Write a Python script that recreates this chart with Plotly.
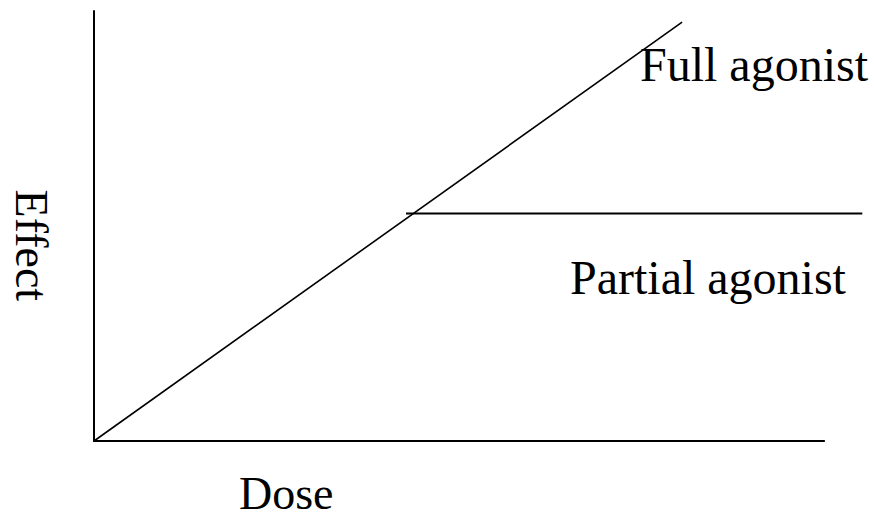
import plotly.graph_objects as go

# schematic dose-effect lines (arbitrary units)
axis_dose = [0, 0, 9.37]
axis_effect = [9.77, 0, 0]

full_dose = [0, 7.54]
full_effect = [0, 9.50]

partial_dose = [4.0, 9.85]
partial_effect = [5.16, 5.16]

fig = go.Figure()

fig.add_trace(go.Scatter(x=axis_dose, y=axis_effect, mode='lines',
                         line=dict(color='black', width=2), hoverinfo='skip'))
fig.add_trace(go.Scatter(x=full_dose, y=full_effect, mode='lines',
                         line=dict(color='black', width=1.6), name="Full agonist"))
fig.add_trace(go.Scatter(x=partial_dose, y=partial_effect, mode='lines',
                         line=dict(color='black', width=2), name="Partial agonist"))

label_font = dict(family="Liberation Serif, Times New Roman, serif", size=48, color="black")
axis_font = dict(family="Liberation Serif, Times New Roman, serif", size=46, color="black")

fig.add_annotation(x=6.98, y=8.54, text="Full agonist", showarrow=False,
                   xanchor='left', yanchor='middle', font=label_font)
fig.add_annotation(x=6.08, y=3.70, text="Partial agonist", showarrow=False,
                   xanchor='left', yanchor='middle', font=label_font)
fig.add_annotation(x=1.83, y=-1.18, text="Dose", showarrow=False,
                   xanchor='left', yanchor='middle', font=axis_font)
fig.add_annotation(x=-0.80, y=4.44, text="Effect", showarrow=False, textangle=90,
                   xanchor='center', yanchor='middle', font=axis_font)

# axes span the whole page so labels outside the drawn axes stay visible
fig.update_layout(
    width=874, height=514,
    margin=dict(l=0, r=0, t=0, b=0),
    showlegend=False,
    plot_bgcolor='white',
    paper_bgcolor='white',
    xaxis=dict(range=[-94 / 78, 780 / 78], visible=False, fixedrange=True),
    yaxis=dict(range=[-73 / 44.1, 441 / 44.1], visible=False, fixedrange=True),
)

fig.write_html("out.html", config=dict(displayModeBar=False),
               post_script="document.body.style.margin='0';")
